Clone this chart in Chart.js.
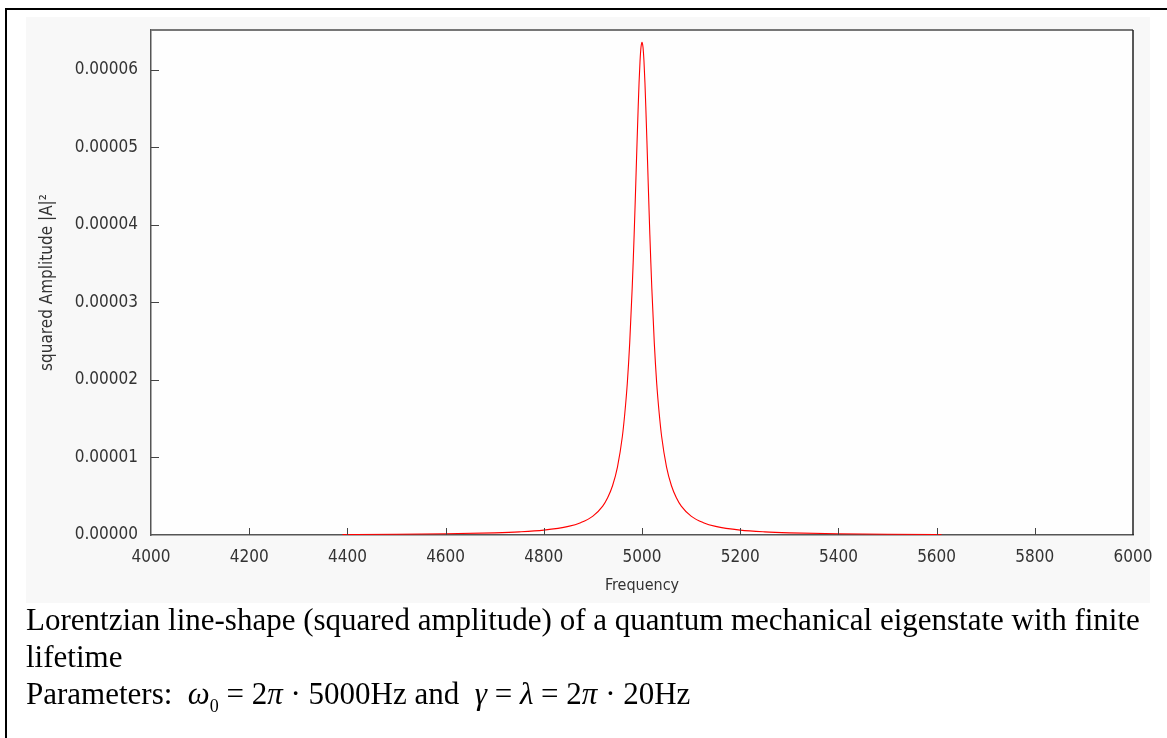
<!DOCTYPE html>
<html>
<head>
<meta charset="utf-8">
<script src="https://cdn.jsdelivr.net/npm/chart.js@4/dist/chart.umd.min.js"></script>
<style>
  html, body { margin: 0; padding: 0; background: #fff; }
  body { width: 1167px; height: 738px; position: relative; overflow: hidden; }
  #frame { position: absolute; left: 5px; top: 8px; width: 1200px; height: 800px; border: 2px solid #000; border-right: none; border-bottom: none; }
  #wrap { position: absolute; left: 26px; top: 17px; width: 1124px; height: 586px; background: #f8f8f8; overflow: visible; }
  #myChart { position: absolute; left: 0; top: 0; }
  #caption { position: absolute; left: 26px; top: 601px; font-family: "Liberation Serif", "Times New Roman", serif; font-size: 31px; line-height: 37px; color: #000; white-space: nowrap; }
  #caption i { font-style: italic; }
  #caption sub { font-size: 18px; line-height: 0; vertical-align: -8px; }
</style>
</head>
<body>
<div id="frame"></div>
<div id="wrap"><canvas id="myChart" width="1140" height="586"></canvas></div>
<div id="caption">
Lorentzian line-shape (squared amplitude) of a quantum mechanical eigenstate with finite<br>
lifetime<br>
Parameters:&nbsp; <i>ω</i><sub>0</sub> = 2<i>π</i> · 5000Hz and&nbsp; <i>γ</i> = <i>λ</i> = 2<i>π</i> · 20Hz
</div>
<script>
// valeurs
var frequences = [4390, 4400, 4500, 4600, 4700, 4750, 4800, 4850, 4875, 4900, 4920, 4930, 4940, 4950,
  4960, 4965, 4970, 4975, 4980, 4982, 4984, 4986, 4988, 4990, 4992, 4994, 4996, 4998, 5000,
  5002, 5004, 5006, 5008, 5010, 5012, 5014, 5016, 5018, 5020, 5025, 5030, 5035, 5040,
  5050, 5060, 5070, 5080, 5100, 5125, 5150, 5200, 5250, 5300, 5400, 5500, 5600, 5610];
var amplitudes = [6.8e-8, 7.0e-8, 1.0e-7, 1.6e-7, 2.8e-7, 4.0e-7, 6.3e-7, 1.11e-6, 1.59e-6, 2.44e-6, 3.73e-6, 4.8e-6, 6.35e-6, 8.76e-6,
  1.27e-5, 1.57e-5, 1.95e-5, 2.48e-5, 3.18e-5, 3.51e-5, 3.87e-5, 4.26e-5, 4.67e-5, 5.08e-5, 5.47e-5, 5.83e-5, 6.11e-5, 6.29e-5, 6.35e-5,
  6.29e-5, 6.11e-5, 5.83e-5, 5.47e-5, 5.08e-5, 4.67e-5, 4.26e-5, 3.87e-5, 3.51e-5, 3.18e-5, 2.48e-5, 1.95e-5, 1.57e-5, 1.27e-5,
  8.76e-6, 6.35e-6, 4.8e-6, 3.73e-6, 2.44e-6, 1.59e-6, 1.11e-6, 6.3e-7, 4.0e-7, 2.8e-7, 1.6e-7, 1.0e-7, 7.0e-8, 6.8e-8];
var ticksX = [4000, 4200, 4400, 4600, 4800, 5000, 5200, 5400, 5600, 5800, 6000];
var ticksY = [0, 0.00001, 0.00002, 0.00003, 0.00004, 0.00005, 0.00006];

var points = [];
for (var i = 0; i < frequences.length; i++) {
  points.push({ x: frequences[i], y: amplitudes[i] });
}

var police = '"DejaVu Sans Condensed", "DejaVu Sans", sans-serif';

// fond de la zone, cadre et petits traits vers l'intérieur
var cadre = {
  id: 'cadre',
  beforeDraw: function (chart) {
    var a = chart.chartArea, c = chart.ctx;
    c.save();
    c.fillStyle = '#fefefe';
    c.fillRect(a.left, a.top, a.right - a.left, a.bottom - a.top);
    c.restore();
  },
  afterDraw: function (chart) {
    var a = chart.chartArea, c = chart.ctx;
    var sx = chart.scales.x, sy = chart.scales.y;
    c.save();
    c.strokeStyle = '#777';
    c.lineWidth = 2;
    c.beginPath(); c.moveTo(a.left, a.top); c.lineTo(a.right, a.top); c.stroke();
    c.strokeStyle = '#222';
    c.lineWidth = 1.5;
    c.beginPath(); c.moveTo(a.right, a.top); c.lineTo(a.right, a.bottom); c.stroke();
    c.strokeStyle = '#444';
    c.lineWidth = 1;
    ticksX.forEach(function (v) {
      if (v === 4000 || v === 6000) return;
      var px = Math.round(sx.getPixelForValue(v)) + 0.5;
      c.beginPath(); c.moveTo(px, a.bottom); c.lineTo(px, a.bottom - 7); c.stroke();
    });
    ticksY.forEach(function (v) {
      if (v === 0) return;
      var py = Math.round(sy.getPixelForValue(v)) + 0.5;
      c.beginPath(); c.moveTo(a.left, py); c.lineTo(a.left + 8, py); c.stroke();
    });
    c.restore();
  }
};

new Chart(document.getElementById('myChart'), {
  type: 'line',
  data: {
    datasets: [{
      data: points,
      borderColor: '#ff0000',
      borderWidth: 1.1,
      pointRadius: 0,
      fill: false,
      cubicInterpolationMode: 'monotone'
    }]
  },
  options: {
    responsive: false,
    animation: false,
    layout: { padding: { top: 13, right: 33, left: 0, bottom: 0 } },
    plugins: { legend: { display: false }, tooltip: { enabled: false } },
    scales: {
      x: {
        type: 'linear',
        min: 4000,
        max: 6000,
        afterFit: function (s) { s.height = 68; s.paddingLeft = 0; s.paddingRight = 0; },
        afterBuildTicks: function (s) { s.ticks = ticksX.map(function (v) { return { value: v }; }); },
        grid: { display: false },
        border: { display: true, color: '#555', width: 1.5 },
        ticks: {
          padding: 4, color: '#333', font: { family: police, size: 17 }, maxRotation: 0,
          callback: function (v) { return String(v); }
        },
        title: { display: true, text: 'Frequency', color: '#333', font: { family: police, size: 16 }, padding: { top: 0, bottom: 8 } }
      },
      y: {
        min: 0,
        max: 0.0000651,
        afterFit: function (s) { s.width = 125; s.paddingTop = 0; s.paddingBottom = 0; },
        afterBuildTicks: function (s) { s.ticks = ticksY.map(function (v) { return { value: v }; }); },
        grid: { display: false },
        border: { display: true, color: '#555', width: 1.5 },
        ticks: {
          padding: 5, color: '#333', font: { family: police, size: 17 },
          callback: function (v) { return Number(v).toFixed(5); }
        },
        title: { display: true, text: 'squared Amplitude |A|²', color: '#333', font: { family: police, size: 17 }, padding: { top: 11, bottom: 0 } }
      }
    }
  },
  plugins: [cadre]
});
</script>
</body>
</html>
